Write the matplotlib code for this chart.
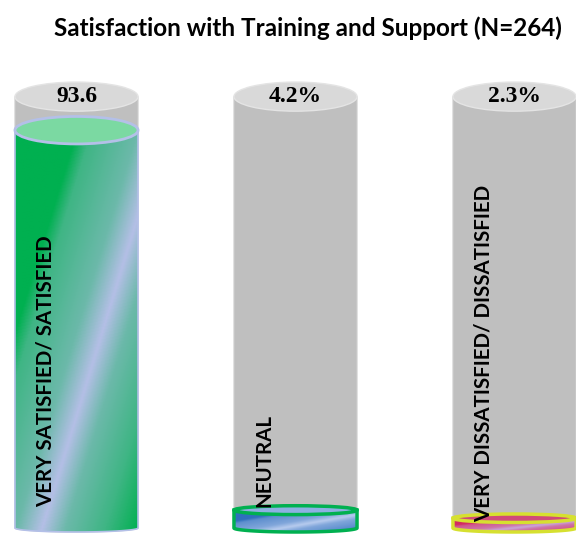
import numpy as np
import matplotlib
matplotlib.use('Agg')
import matplotlib.pyplot as plt
from matplotlib.patches import Ellipse, Polygon
from matplotlib.colors import LinearSegmentedColormap, to_rgb

# data
categories = ['VERY SATISFIED/ SATISFIED', 'NEUTRAL', 'VERY DISSATISFIED/ DISSATISFIED']
values = [93.6, 4.2, 2.3]
value_labels = ['93.6', '4.2%', '2.3%']
title = 'Satisfaction with Training and Support (N=264)'

# colours: (main, highlight, top, edge)
styles = [
    ('#00b050', '#b4bfe6', '#7bd9a2', '#b4c0e8'),
    ('#2f6fbd', '#b7cbee', '#8db0e2', '#00b050'),
    ('#d42a60', '#c9a6da', '#d04a7a', '#d6e030'),
]

# geometry (pixel scale of the axes, perspective of ellipses)
PX_X = 219.0     # px per category unit
PX_Y = 4.25      # px per percent
HW = 0.281       # half width of a cylinder (category units)
CAP = 101.5      # height of the empty cylinder


def ry(v):
    # ellipses flatten towards the bottom (eye level near the base)
    return (4.0 + 0.104 * v) / PX_Y


def half_ellipse(x, y, r, lower=True, n=60):
    th = np.linspace(np.pi, 2 * np.pi, n) if lower else np.linspace(0, np.pi, n)
    return np.column_stack([x + HW * np.cos(th), y + r * np.sin(th)])


def mix(a, b, f):
    a, b = np.array(to_rgb(a)), np.array(to_rgb(b))
    return tuple(a + (b - a) * f)


fig = plt.figure(figsize=(5.76, 5.35), dpi=100)
ax = fig.add_axes([0, 0, 1, 1])
ax.set_xlim(-76.5 / PX_X, (576 - 76.5) / PX_X)
ax.set_ylim(-7.0 / PX_Y, 528 / PX_Y)
ax.axis('off')

for i, (v, lab, vl, st) in enumerate(zip(values, categories, value_labels, styles)):
    main, hi, top, edge = st

    # empty grey cylinder
    body = np.vstack([half_ellipse(i, 0, ry(0)), [[i + HW, CAP], [i - HW, CAP]]])
    ax.add_patch(Polygon(body, closed=True, fc='#bfbfbf', ec='#cfcfcf', lw=0.8, zorder=1))
    ax.add_patch(Ellipse((i, CAP), 2 * HW, 2 * ry(CAP), fc='#d9d9d9', ec='#e4e4e4', lw=1, zorder=2))
    ax.text(i, CAP, vl, ha='center', va='center', fontsize=17, fontweight='bold',
            family='Liberation Serif', zorder=6)

    # filled part, diagonal gradient relative to the shape box
    fill = np.vstack([half_ellipse(i, 0, ry(0)), [[i + HW, v], [i - HW, v]]])
    clip = Polygon(fill, closed=True, fc='none', ec='none', transform=ax.transData)
    ax.add_patch(clip)
    x0, x1 = i - HW, i + HW
    y0, y1 = -ry(0), v
    X, Y = np.meshgrid(np.linspace(x0, x1, 120), np.linspace(y0, y1, 400))
    t = (X - x0) / (x1 - x0) - (Y - y0) / (y1 - y0)
    cmap = LinearSegmentedColormap.from_list('g', [
        (0, main), (0.25, main), (0.31, mix(main, hi, 0.35)), (0.5, mix(main, hi, 0.6)),
        (0.605, hi), (0.7, mix(main, hi, 0.6)), (0.86, mix(main, hi, 0.35)), (1.0, main)])
    im = ax.imshow(cmap((t + 1) / 2), extent=[x0, x1, y0, y1], origin='lower', aspect='auto',
                   interpolation='bilinear', zorder=3)
    im.set_clip_path(clip)
    ax.add_patch(Polygon(fill, closed=True, fc='none', ec=edge, lw=1.2 if i == 0 else 2.5, zorder=4))
    ax.add_patch(Ellipse((i, v), 2 * HW, 2 * ry(v), fc=top, ec=edge,
                         lw=2 if i == 0 else 2.5, zorder=5))

    # category label
    ax.text(i - HW + 0.14, 5.0 if i < 2 else 1.3, lab, rotation=90, ha='center', va='bottom',
            fontsize=14.8, fontweight='bold', family='Lato', zorder=6)

fig.text(0.534, 0.948, title, ha='center', va='center', fontsize=17.5, fontweight='bold', family='Lato')

fig.savefig('out.png', dpi=100)
